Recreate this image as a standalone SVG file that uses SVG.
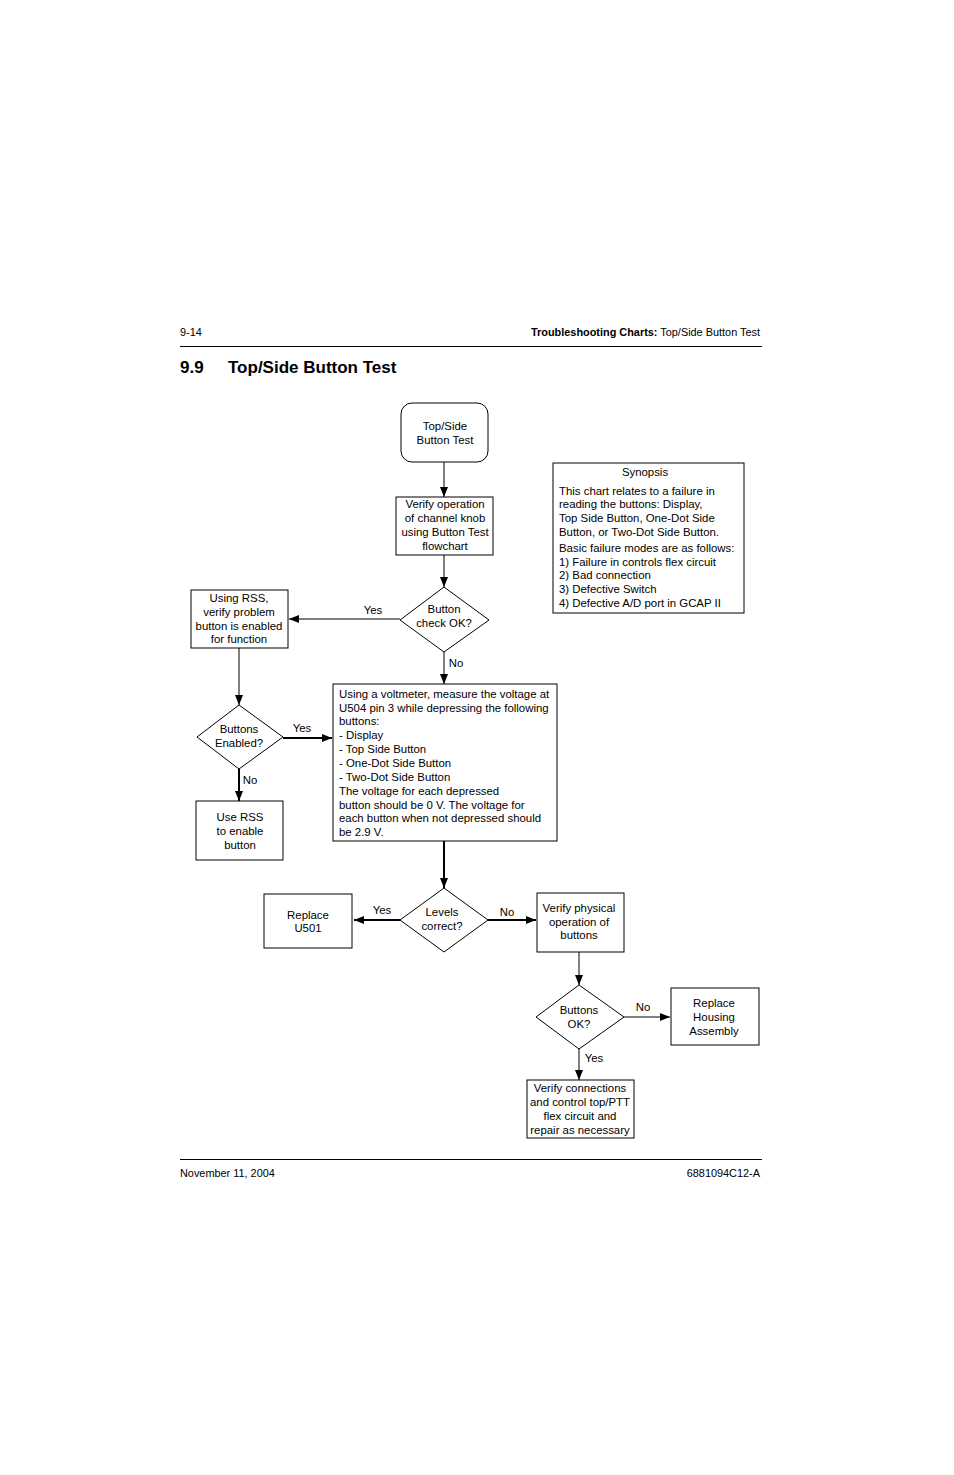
<svg xmlns="http://www.w3.org/2000/svg" width="954" height="1475" viewBox="0 0 954 1475">
<style>
text{font-family:"Liberation Sans",Arial,sans-serif;font-size:11.4px;fill:#000}
.c{text-anchor:middle}
.r{text-anchor:end}
.hf{font-size:10.9px}
.box{fill:#fff;stroke:#000;stroke-width:1}
.ln{fill:none;stroke:#000;stroke-width:1}
.tk{fill:none;stroke:#000;stroke-width:2}
</style>
<defs>
<marker id="ah" viewBox="0 0 10 8" refX="10" refY="4" markerWidth="10" markerHeight="8" markerUnits="userSpaceOnUse" orient="auto">
<path d="M0,0 L10,4 L0,8 Z" fill="#000"/>
</marker>
</defs>
<rect width="954" height="1475" fill="#fff"/>
<g id="header">
<text x="180" y="336" class="hf">9-14</text>
<text x="760" y="336" class="r hf"><tspan font-weight="bold">Troubleshooting Charts:</tspan> Top/Side Button Test</text>
<line x1="180" y1="346.5" x2="762" y2="346.5" stroke="#000" stroke-width="1"/>
<text x="180" y="373" style="font-size:17px;font-weight:bold">9.9</text>
<text x="228" y="373" style="font-size:17px;font-weight:bold">Top/Side Button Test</text>
</g>
<g id="connectors">
<line class="ln" x1="444" y1="462" x2="444" y2="497" marker-end="url(#ah)"/>
<line class="ln" x1="444" y1="555" x2="444" y2="587" marker-end="url(#ah)"/>
<line class="ln" x1="400" y1="619" x2="289" y2="619" marker-end="url(#ah)"/>
<line class="ln" x1="444" y1="652" x2="444" y2="684" marker-end="url(#ah)"/>
<line class="ln" x1="239" y1="648" x2="239" y2="705" marker-end="url(#ah)"/>
<line class="tk" x1="283" y1="738" x2="332" y2="738" marker-end="url(#ah)"/>
<line class="tk" x1="239" y1="769" x2="239" y2="801" marker-end="url(#ah)"/>
<line class="tk" x1="444" y1="841" x2="444" y2="888" marker-end="url(#ah)"/>
<line class="tk" x1="400" y1="920" x2="354" y2="920" marker-end="url(#ah)"/>
<line class="tk" x1="488" y1="920" x2="536" y2="920" marker-end="url(#ah)"/>
<line class="ln" x1="579" y1="952" x2="579" y2="985" marker-end="url(#ah)"/>
<line class="ln" x1="624" y1="1017" x2="670" y2="1017" marker-end="url(#ah)"/>
<line class="ln" x1="579" y1="1049" x2="579" y2="1080" marker-end="url(#ah)"/>
<text x="373" y="614" class="c">Yes</text>
<text x="456" y="667" class="c">No</text>
<text x="302" y="732" class="c">Yes</text>
<text x="250" y="784" class="c">No</text>
<text x="382" y="914" class="c">Yes</text>
<text x="507" y="916" class="c">No</text>
<text x="643" y="1011" class="c">No</text>
<text x="594" y="1062" class="c">Yes</text>
</g>
<g id="start">
<rect class="box" x="401" y="403" width="87" height="59" rx="11"/>
<text x="445" y="430" class="c">Top/Side</text>
<text x="445" y="444" class="c">Button Test</text>
</g>
<g id="verify-knob">
<rect class="box" x="396" y="497" width="97" height="58"/>
<text x="445" y="508" class="c">Verify operation</text>
<text x="445" y="522" class="c">of channel knob</text>
<text x="445" y="536" class="c">using Button Test</text>
<text x="445" y="550" class="c">flowchart</text>
</g>
<g id="synopsis">
<rect class="box" x="553" y="463" width="191" height="150"/>
<text x="645" y="476" class="c">Synopsis</text>
<text x="559" y="495">This chart relates to a failure in</text>
<text x="559" y="508">reading the buttons: Display,</text>
<text x="559" y="522">Top Side Button, One-Dot Side</text>
<text x="559" y="536">Button, or Two-Dot Side Button.</text>
<text x="559" y="552">Basic failure modes are as follows:</text>
<text x="559" y="566">1) Failure in controls flex circuit</text>
<text x="559" y="579">2) Bad connection</text>
<text x="559" y="593">3) Defective Switch</text>
<text x="559" y="607">4) Defective A/D port in GCAP II</text>
</g>
<g id="button-check">
<polygon class="box" points="444,587 489,620 444,652 400,620"/>
<text x="444" y="613" class="c">Button</text>
<text x="444" y="627" class="c">check OK?</text>
</g>
<g id="rss-verify">
<rect class="box" x="191" y="590" width="97" height="58"/>
<text x="239" y="602" class="c">Using RSS,</text>
<text x="239" y="616" class="c">verify problem</text>
<text x="239" y="630" class="c">button is enabled</text>
<text x="239" y="643" class="c">for function</text>
</g>
<g id="measure">
<rect class="box" x="333" y="684" width="224" height="157"/>
<text x="339" y="698">Using a voltmeter, measure the voltage at</text>
<text x="339" y="712">U504 pin 3 while depressing the following</text>
<text x="339" y="725">buttons:</text>
<text x="339" y="739">- Display</text>
<text x="339" y="753">- Top Side Button</text>
<text x="339" y="767">- One-Dot Side Button</text>
<text x="339" y="781">- Two-Dot Side Button</text>
<text x="339" y="795">The voltage for each depressed</text>
<text x="339" y="809">button should be 0 V. The voltage for</text>
<text x="339" y="822">each button when not depressed should</text>
<text x="339" y="836">be 2.9 V.</text>
</g>
<g id="buttons-enabled">
<polygon class="box" points="239,705 283,737 239,769 197,737"/>
<text x="239" y="733" class="c">Buttons</text>
<text x="239" y="747" class="c">Enabled?</text>
</g>
<g id="use-rss">
<rect class="box" x="196" y="801" width="87" height="59"/>
<text x="240" y="821" class="c">Use RSS</text>
<text x="240" y="835" class="c">to enable</text>
<text x="240" y="849" class="c">button</text>
</g>
<g id="levels">
<polygon class="box" points="444,888 488,920 444,952 400,920"/>
<text x="442" y="916" class="c">Levels</text>
<text x="442" y="930" class="c">correct?</text>
</g>
<g id="replace-u501">
<rect class="box" x="264" y="894" width="88" height="54"/>
<text x="308" y="919" class="c">Replace</text>
<text x="308" y="932" class="c">U501</text>
</g>
<g id="verify-physical">
<rect class="box" x="537" y="893" width="87" height="59"/>
<text x="579" y="912" class="c">Verify physical</text>
<text x="579" y="926" class="c">operation of</text>
<text x="579" y="939" class="c">buttons</text>
</g>
<g id="buttons-ok">
<polygon class="box" points="579,985 624,1017 579,1049 536,1017"/>
<text x="579" y="1014" class="c">Buttons</text>
<text x="579" y="1028" class="c">OK?</text>
</g>
<g id="replace-housing">
<rect class="box" x="671" y="988" width="88" height="57"/>
<text x="714" y="1007" class="c">Replace</text>
<text x="714" y="1021" class="c">Housing</text>
<text x="714" y="1035" class="c">Assembly</text>
</g>
<g id="verify-connections">
<rect class="box" x="527" y="1080" width="107" height="58"/>
<text x="580" y="1092" class="c">Verify connections</text>
<text x="580" y="1106" class="c">and control top/PTT</text>
<text x="580" y="1120" class="c">flex circuit and</text>
<text x="580" y="1134" class="c">repair as necessary</text>
</g>
<g id="footer">
<line x1="180" y1="1159.5" x2="762" y2="1159.5" stroke="#000" stroke-width="1"/>
<text x="180" y="1177" class="hf">November 11, 2004</text>
<text x="760" y="1177" class="r hf">6881094C12-A</text>
</g>
</svg>
